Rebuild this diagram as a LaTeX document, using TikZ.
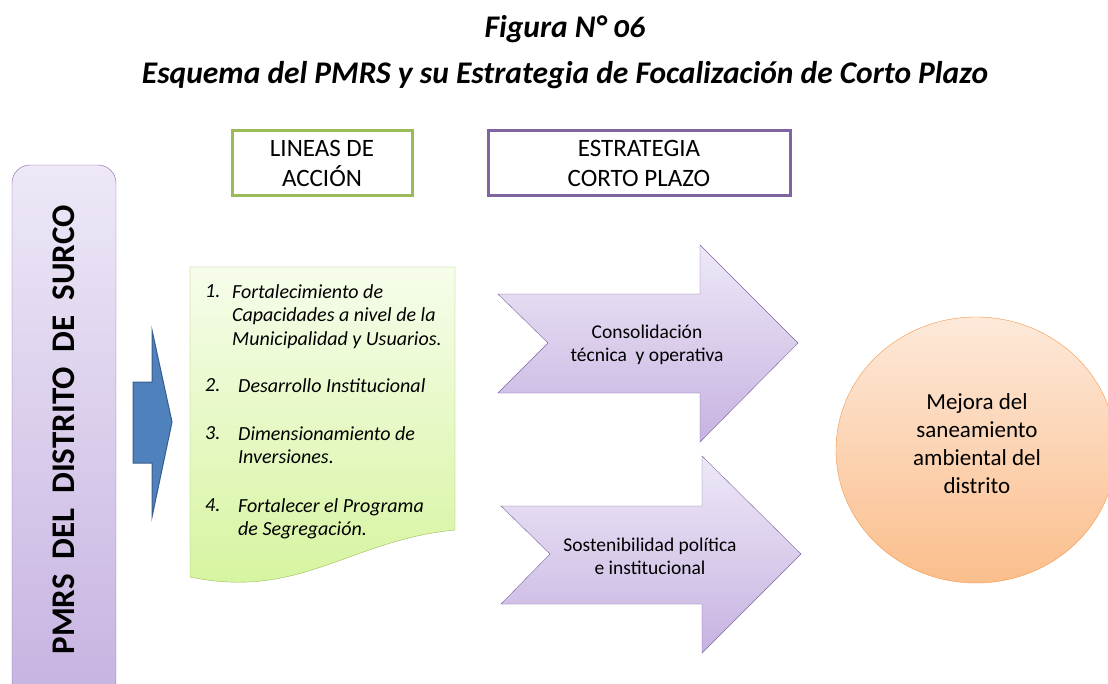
\documentclass[tikz,border=0pt]{standalone}
\usepackage{fontspec}
\setmainfont{Carlito}
\usetikzlibrary{positioning}
\definecolor{lilaBorde}{HTML}{8064A2}
\definecolor{lilaClaro}{HTML}{EEE8F7}
\definecolor{lilaOscuro}{HTML}{C6B3E1}
\definecolor{verdeBorde}{HTML}{9BBB59}
\definecolor{verdeClaro}{HTML}{F6FDEB}
\definecolor{verdeOscuro}{HTML}{D5F49C}
\definecolor{azulFlecha}{HTML}{4F81BD}
\definecolor{azulBorde}{HTML}{385D8A}
\definecolor{naranjaBorde}{HTML}{F79646}
\definecolor{naranjaClaro}{HTML}{FDE9DA}
\definecolor{naranjaOscuro}{HTML}{FBBE8C}
\def\flechauno{(498,294) -- (548,343) -- (498,393) -- (700,393) -- (700,442) -- (798,343) -- (700,245) -- (700,294) -- cycle}
\def\flechados{(501,506) -- (550,554) -- (501,604) -- (702,604) -- (702,653) -- (801,554) -- (702,456) -- (702,506) -- cycle}
\def\documento{(190,267) -- (455,267) -- (455,530) .. controls (350,540) and (300,600) .. (190,577) -- cycle}
\def\flechaazul{(133,382) -- (152,382) -- (152,330) -- (172,422) -- (152,517) -- (152,463) -- (133,463) -- cycle}

\begin{document}
\begin{tikzpicture}[x=1pt,y=-1pt,
    titulo/.style={font=\fontsize{31.5}{36}\selectfont\bfseries\itshape\addfontfeature{Numbers=OldStyle}},
    cabecera/.style={draw, line width=3pt, minimum width=180, minimum height=65, align=center, font=\fontsize{25}{30}\selectfont},
    item/.style={anchor=north west, inner sep=0, align=left, font=\fontsize{20}{23.5}\selectfont\itshape},
    etiqueta/.style={align=center, inner sep=0, font=\fontsize{19.5}{23}\selectfont}]
    \useasboundingbox (0,0) rectangle (1108,683);
    \node[titulo] (fig) at (565,29) {Figura N° 06};
    \node[titulo] (esq) at (565,75) {Esquema del PMRS y su Estrategia de Focalización de Corto Plazo};
    % bloque del plan
    \begin{scope}
        \clip (0,0) rectangle (1108,683);
        \draw[lilaBorde, top color=lilaClaro, bottom color=lilaOscuro, rounded corners=18] (12,165) rectangle (116,700);
        \shade[draw=naranjaBorde, top color=naranjaClaro, bottom color=naranjaOscuro] (976,450) ellipse (140 and 133);
    \end{scope}
    \node[rotate=90, font=\fontsize{33}{40}\selectfont\bfseries] (pmrs) at (64,430) {PMRS\ \ DEL\ \ DISTRITO\ \ DE\ \ SURCO};
    \filldraw[fill=azulFlecha, draw=azulBorde, line width=1pt] \flechaazul;
    % lineas de accion
    \shade[draw=verdeBorde, top color=verdeClaro, bottom color=verdeOscuro] \documento;
    \node[cabecera, draw=verdeBorde] (lin) at (322,163) {LINEAS DE\\ACCIÓN};
    \node[cabecera, draw=lilaBorde, minimum width=302] (est) at (639,163) {ESTRATEGIA\\CORTO PLAZO};
    \node[item] (n1) at (205,284) {1.};
    \node[item] (t1) at (232,284) {Fortalecimiento de\\Capacidades a nivel de la\\Municipalidad y Usuarios.};
    \node[item] (n2) at (205,378) {2.};
    \node[item] (t2) at (238,378) {Desarrollo Institucional};
    \node[item] (n3) at (205,426) {3.};
    \node[item] (t3) at (238,426) {Dimensionamiento de\\Inversiones.};
    \node[item] (n4) at (205,498) {4.};
    \node[item] (t4) at (238,498) {Fortalecer el Programa\\de Segregación.};
    % estrategia
    \shade[draw=lilaBorde, top color=lilaClaro, bottom color=lilaOscuro] \flechauno;
    \shade[draw=lilaBorde, top color=lilaClaro, bottom color=lilaOscuro] \flechados;
    \node[etiqueta] (con) at (647,345) {Consolidación\\técnica\ \ y operativa};
    \node[etiqueta] (sos) at (650,556) {Sostenibilidad política\\e institucional};
    \node[etiqueta, font=\fontsize{23}{28}\selectfont] (mej) at (977,444) {Mejora del\\saneamiento\\ambiental del\\distrito};
\end{tikzpicture}
\end{document}
